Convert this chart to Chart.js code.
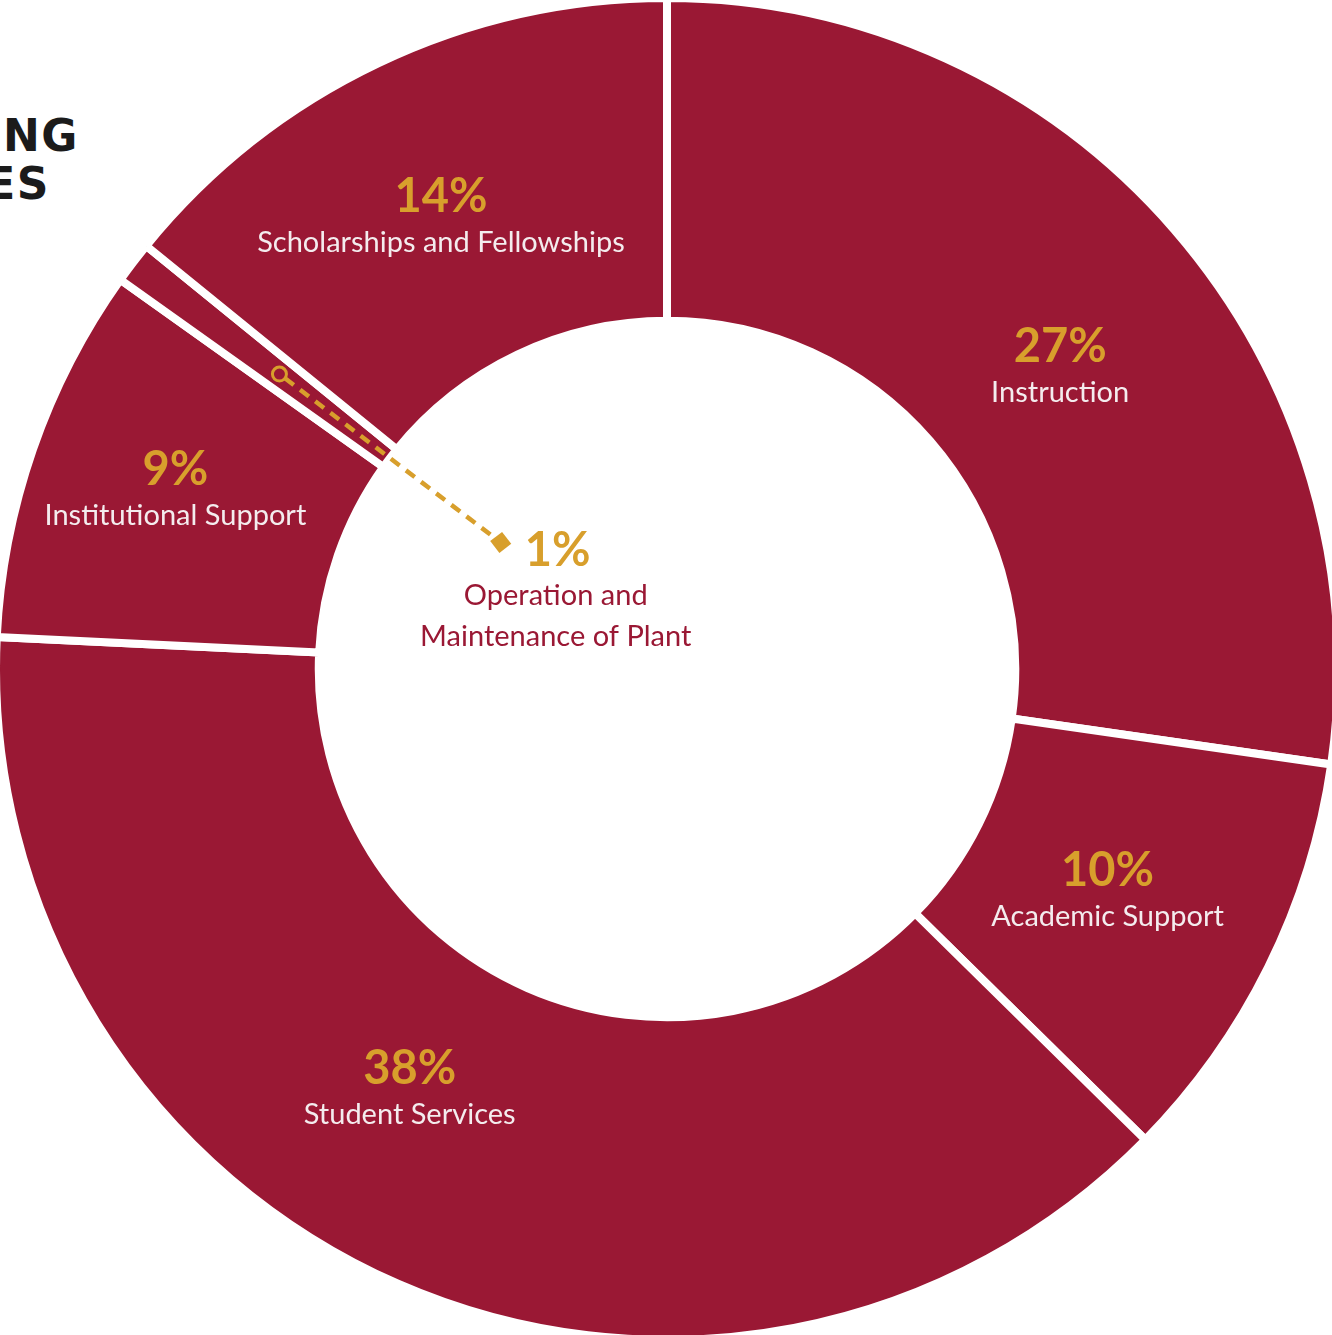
<!DOCTYPE html>
<html>
<head>
    <title>Operating Expenses</title>
    <meta name="viewport" content="width=device-width, initial-scale=1">
    <style>
        html, body {
            margin: 0;
            padding: 0;
            background: #ffffff;
        }
        body {
            width: 1332px;
            height: 1335px;
            position: relative;
            overflow: hidden;
            font-family: Lato, "Open Sans", sans-serif;
        }
        .chartBox {
            position: absolute;
            left: -8px;
            top: -6px;
        }
        .heading {
            position: absolute;
            width: 500px;
            text-align: right;
            font-family: "DejaVu Sans", sans-serif;
            font-weight: 700;
            font-size: 44px;
            line-height: 48px;
            letter-spacing: 1.5px;
            color: #1b1b1b;
            white-space: nowrap;
        }
        .line1 { left: -421px; top: 112px; }
        .line2 { left: -450px; top: 160px; }
    </style>
    <script src="https://cdn.jsdelivr.net/npm/chart.js"></script>
</head>
<body>
    <div class="heading line1">OPERATING</div>
    <div class="heading line2">EXPENSES</div>
    <div class="chartBox">
        <canvas id="donut" width="1350" height="1350"></canvas>
    </div>

    <script>
        const categories = [
            'Instruction',
            'Academic Support',
            'Student Services',
            'Institutional Support',
            'Operation and Maintenance of Plant',
            'Scholarships and Fellowships'
        ];
        const percents = [27, 10, 38, 9, 1, 14];

        // the tiny slice gets its label outside the ring, on a pointer
        const calloutIndex = 4;
        const calloutLines = ['Operation and', 'Maintenance of Plant'];

        // nudges from each slice's centre point to where its label sits
        const labelShift = [[8, 27], [-16, -9], [-53, -52], [-10, -17], [0, 0], [-7, 3]];

        const crimson = '#9a1834';
        const gold = '#d89f2c';

        const sliceLabels = {
            id: 'sliceLabels',
            afterDatasetsDraw(chart) {
                const ctx = chart.ctx;
                const arcs = chart.getDatasetMeta(0).data;
                ctx.save();
                ctx.textAlign = 'center';
                ctx.textBaseline = 'alphabetic';
                arcs.forEach((arc, i) => {
                    if (i === calloutIndex) {
                        drawCallout(ctx, arc, i);
                        return;
                    }
                    const p = arc.tooltipPosition();
                    const x = p.x + labelShift[i][0];
                    const y = p.y + labelShift[i][1];
                    ctx.font = '700 47px Lato';
                    ctx.fillStyle = gold;
                    ctx.fillText(percents[i] + '%', x, y);
                    ctx.font = '400 29px Lato';
                    ctx.fillStyle = '#f4ecee';
                    ctx.fillText(categories[i], x, y + 40);
                });
                ctx.restore();
            }
        };

        function drawCallout(ctx, arc, i) {
            const a = arc.getProps(['x', 'y', 'startAngle', 'endAngle', 'innerRadius', 'outerRadius']);
            const mid = (a.startAngle + a.endAngle) / 2;
            const rStart = a.innerRadius + (a.outerRadius - a.innerRadius) * 0.43;
            const rEnd = a.innerRadius * 0.6;
            const cos = Math.cos(mid), sin = Math.sin(mid);
            const sx = a.x + cos * rStart, sy = a.y + sin * rStart;
            const ex = a.x + cos * rEnd, ey = a.y + sin * rEnd;
            const ringR = 7;

            // dashed pointer, from the inner side of the ring towards the hole
            ctx.strokeStyle = gold;
            ctx.lineWidth = 4.5;
            ctx.setLineDash([11, 8]);
            ctx.beginPath();
            ctx.moveTo(sx - cos * ringR, sy - sin * ringR);
            ctx.lineTo(ex, ey);
            ctx.stroke();
            ctx.setLineDash([]);

            // small ring where it starts
            ctx.lineWidth = 3;
            ctx.beginPath();
            ctx.arc(sx, sy, ringR, 0, Math.PI * 2);
            ctx.stroke();

            // square head at the end
            ctx.save();
            ctx.translate(ex, ey);
            ctx.rotate(mid + Math.PI / 12);
            ctx.fillStyle = gold;
            ctx.fillRect(-7.5, -7.5, 15, 15);
            ctx.restore();

            ctx.textAlign = 'left';
            ctx.font = '700 47px Lato';
            ctx.fillStyle = gold;
            ctx.fillText(percents[i] + '%', ex + 24, ey + 24);
            ctx.textAlign = 'center';
            ctx.font = '400 29px Lato';
            ctx.fillStyle = crimson;
            ctx.fillText(calloutLines[0], ex + 55, ey + 63);
            ctx.fillText(calloutLines[1], ex + 55, ey + 104);
        }

        const ctx = document.getElementById('donut').getContext('2d');
        const donut = new Chart(ctx, {
            type: 'doughnut',
            data: {
                labels: categories,
                datasets: [{
                    data: percents,
                    backgroundColor: crimson,
                    borderColor: '#ffffff',
                    borderWidth: 8,
                    hoverOffset: 0
                }]
            },
            options: {
                responsive: false,
                maintainAspectRatio: false,
                animation: false,
                cutout: '51.9%',
                layout: { padding: 0 },
                plugins: {
                    legend: { display: false },
                    tooltip: { enabled: false }
                }
            },
            plugins: [sliceLabels]
        });
    </script>
</body>
</html>
